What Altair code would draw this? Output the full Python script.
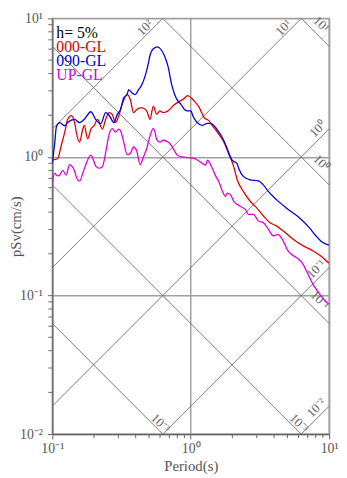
import math
import altair as alt
import pandas as pd

# ---------------- data ----------------
COMPONENTS = ["000-GL", "090-GL", "UP-GL"]
COLORS = ["#dd0000", "#0000dd", "#dd00dd"]

T_000 = [0.100, 0.109, 0.116, 0.123, 0.129, 0.137, 0.145, 0.149, 0.157, 0.166, 0.170, 0.180, 0.190, 0.201, 0.212,
         0.230, 0.243, 0.257, 0.271, 0.286, 0.302, 0.319, 0.347, 0.366, 0.386, 0.408, 0.443, 0.481, 0.508, 0.537,
         0.567, 0.598, 0.632, 0.686, 0.724, 0.765, 0.831, 0.877, 0.953, 1.005, 1.062, 1.153, 1.251, 1.357, 1.434,
         1.556, 1.737, 1.884, 2.046, 2.161, 2.411, 2.687, 2.998, 3.347, 3.731, 4.161, 4.641, 5.466, 6.443, 7.594,
         8.946, 9.71, 10.0]
SV_000 = [0.95, 0.97, 1.21, 1.51, 1.86, 1.99, 1.77, 1.51, 1.28, 1.59, 1.69, 1.35, 1.59, 1.69, 1.87,
          1.59, 1.87, 2.09, 2.03, 1.77, 1.98, 2.39, 2.82, 2.60, 2.09, 2.20, 2.27, 2.15, 1.87, 2.33,
          2.03, 2.15, 2.09, 2.15, 2.27, 2.39, 2.53, 2.60, 2.77, 2.67, 2.53, 2.27, 1.92, 1.82, 1.68,
          1.51, 1.28, 1.05, 0.849, 0.69, 0.56, 0.479, 0.429, 0.375, 0.336, 0.318, 0.293, 0.256, 0.229, 0.211,
          0.189, 0.175, 0.172]

T_090 = [0.100, 0.104, 0.107, 0.113, 0.123, 0.129, 0.145, 0.157, 0.170, 0.190, 0.206, 0.224, 0.243, 0.257, 0.279,
         0.294, 0.311, 0.328, 0.347, 0.356, 0.376, 0.397, 0.420, 0.443, 0.468, 0.494, 0.508, 0.537, 0.575, 0.615,
         0.650, 0.686, 0.724, 0.765, 0.808, 0.853, 0.902, 0.953, 1.005, 1.033, 1.086, 1.153, 1.217, 1.320, 1.394,
         1.474, 1.599, 1.737, 1.884, 1.990, 2.161, 2.222, 2.411, 2.687, 3.081, 3.347, 3.634, 4.161, 4.898, 6.095,
         7.183, 8.015, 8.946, 9.71, 10.0]
SV_090 = [0.90, 1.25, 1.65, 1.77, 1.68, 1.77, 1.87, 1.77, 1.87, 2.12, 1.86, 1.74, 2.09, 2.00, 1.77,
          2.02, 2.20, 2.67, 2.82, 3.06, 2.90, 2.82, 3.06, 3.32, 3.83, 4.73, 5.42, 6.05, 6.22, 5.89,
          5.28, 4.48, 3.41, 2.82, 2.53, 2.39, 2.20, 2.15, 2.15, 1.99, 1.83, 1.72, 1.69, 1.75, 1.75,
          1.68, 1.51, 1.31, 1.07, 0.947, 0.896, 0.826, 0.721, 0.683, 0.672, 0.629, 0.564, 0.492, 0.429, 0.364,
          0.309, 0.270, 0.242, 0.233, 0.232]

T_UP = [0.100, 0.104, 0.109, 0.113, 0.119, 0.126, 0.133, 0.141, 0.153, 0.157, 0.170, 0.190, 0.206, 0.218, 0.230,
        0.243, 0.257, 0.271, 0.286, 0.302, 0.311, 0.328, 0.347, 0.366, 0.386, 0.408, 0.431, 0.455, 0.481, 0.508,
        0.537, 0.552, 0.567, 0.598, 0.632, 0.686, 0.724, 0.765, 0.808, 0.877, 0.953, 1.062, 1.122, 1.217, 1.284,
        1.320, 1.357, 1.434, 1.513, 1.599, 1.689, 1.783, 1.833, 1.936, 2.046, 2.281, 2.477, 2.618, 2.840, 3.081,
        3.347, 3.634, 3.945, 4.276, 4.641, 5.036, 5.466, 5.935, 6.443, 6.995, 7.594, 8.459, 9.71, 10.0]
SV_UP = [0.65, 0.76, 0.73, 0.74, 0.80, 0.74, 0.88, 0.84, 0.68, 0.67, 0.82, 1.03, 0.86, 0.83, 0.85,
         1.08, 1.45, 1.60, 1.51, 1.59, 1.55, 1.28, 1.04, 1.06, 1.18, 1.10, 0.88, 1.00, 1.15, 1.42,
         1.61, 1.51, 1.34, 1.28, 1.32, 1.28, 1.21, 1.10, 1.02, 1.00, 0.99, 0.975, 0.947, 0.896, 0.873,
         0.95, 0.92, 0.826, 0.73, 0.66, 0.57, 0.52, 0.548, 0.534, 0.479, 0.441, 0.418, 0.385, 0.385, 0.345,
         0.336, 0.301, 0.270, 0.275, 0.249, 0.211, 0.195, 0.185, 0.170, 0.144, 0.122, 0.104, 0.0883, 0.087]

# tripartite guide lines: pseudo-acceleration (cm/s^2) and displacement (cm)
ACC_LEVELS = [100, 10, 1, 0.1, 0.01]
ACC_LABELS = ["10²", "10¹", "10⁰", "10⁻¹", "10⁻²"]
DISP_LEVELS = [10, 1, 0.1, 0.01, 0.001]
DISP_LABELS = ["10¹", "10⁰", "10⁻¹", "10⁻³", "10⁻³"]

X_MAJOR = [0.1, 1, 10]
X_MINOR = [0.2, 0.3, 0.4, 0.5, 0.6, 0.7, 0.8, 0.9, 2, 3, 4, 5, 6, 7, 8, 9]
Y_MAJOR = [0.01, 0.1, 1, 10]
Y_MINOR = [0.02, 0.03, 0.04, 0.05, 0.06, 0.07, 0.08, 0.09,
           0.2, 0.3, 0.4, 0.5, 0.6, 0.7, 0.8, 0.9,
           2, 3, 4, 5, 6, 7, 8, 9]

TITLE = "2022/03/17 00:52 at ORID2"
LEGEND_TEXT = ["h= 5%", "000-GL", "090-GL", "UP-GL"]
LEGEND_COLORS = ["#000000", "#dd0000", "#0000dd", "#dd00dd"]

# ---------------- build tables ----------------
rows = []
for comp, ts, vs in [("000-GL", T_000, SV_000), ("090-GL", T_090, SV_090), ("UP-GL", T_UP, SV_UP)]:
    for i, (t, v) in enumerate(zip(ts, vs)):
        rows.append({"comp": comp, "T": t, "Sv": v, "i": i})
curves_df = pd.DataFrame(rows)

TMIN, TMAX, VMIN, VMAX = 0.1, 10.0, 0.01, 10.0
TWO_PI = 2 * math.pi

diag_rows, acc_lab, disp_lab = [], [], []
for a, lab in zip(ACC_LEVELS, ACC_LABELS):
    for t in (TMIN, TMAX):
        diag_rows.append({"id": f"a{a}", "T": t, "Sv": a * t / TWO_PI})
    t_top = VMAX * TWO_PI / a
    if t_top <= TMAX:
        acc_lab.append({"T": t_top, "Sv": VMAX, "lab": lab, "edge": "top"})
    else:
        acc_lab.append({"T": TMAX, "Sv": a * TMAX / TWO_PI, "lab": lab, "edge": "right"})
for d, lab in zip(DISP_LEVELS, DISP_LABELS):
    for t in (TMIN, TMAX):
        diag_rows.append({"id": f"d{d}", "T": t, "Sv": TWO_PI * d / t})
    t_bot = TWO_PI * d / VMIN
    if t_bot <= TMAX:
        disp_lab.append({"T": t_bot, "Sv": VMIN, "lab": lab, "edge": "bottom"})
    else:
        disp_lab.append({"T": TMAX, "Sv": TWO_PI * d / TMAX, "lab": lab, "edge": "right"})
diag_df = pd.DataFrame(diag_rows)
acc_df = pd.DataFrame(acc_lab)
disp_df = pd.DataFrame(disp_lab)

W, H = 281, 422
FONT = "Liberation Serif"
AXIS_GRAY = "#666666"
GRID_GRAY = "#a0a0a0"
TEXT_GRAY = "#555555"

xs = alt.Scale(type="log", domain=[TMIN, TMAX], nice=False)
ys = alt.Scale(type="log", domain=[VMIN, VMAX], nice=False)

x_label_expr = "datum.value < 0.5 ? '10⁻¹' : (datum.value < 5 ? '10⁰' : '10¹')"
y_label_expr = ("datum.value < 0.05 ? '10⁻²' : (datum.value < 0.5 ? '10⁻¹' : "
                "(datum.value < 5 ? '10⁰' : '10¹'))")

XAXIS = alt.Axis(
    values=X_MAJOR, labelExpr=x_label_expr, title="Period(s)", grid=True,
    gridColor=GRID_GRAY, gridWidth=1.5, tickSize=5, tickColor=AXIS_GRAY,
    domainColor=AXIS_GRAY, domainWidth=1.2, labelFont=FONT, labelFontSize=14,
    labelColor=TEXT_GRAY, labelPadding=3, labelFlush=False, labelOverlap=False,
    titleFont=FONT, titleFontSize=15,
    titleFontWeight="normal", titleColor=TEXT_GRAY, titlePadding=3)
YAXIS = alt.Axis(
    values=Y_MAJOR, labelExpr=y_label_expr, title="pSv(cm/s)", grid=True,
    gridColor=GRID_GRAY, gridWidth=1.5, tickSize=5, tickColor=AXIS_GRAY,
    domainColor=AXIS_GRAY, domainWidth=1.2, labelFont=FONT, labelFontSize=14,
    labelColor=TEXT_GRAY, labelPadding=5, labelFlush=False, labelOverlap=False,
    titleFont=FONT, titleFontSize=15,
    titleFontWeight="normal", titleColor=TEXT_GRAY, titleX=-37, titleY=H / 2,
    titleAlign="center", titleBaseline="middle", titleAngle=270)

X = lambda f: alt.X(f, scale=xs, axis=XAXIS)
Y = lambda f: alt.Y(f, scale=ys, axis=YAXIS)

curves = alt.Chart(curves_df).mark_line(strokeWidth=1.3, interpolate="monotone", clip=True).encode(
    x=X("T:Q"), y=Y("Sv:Q"),
    color=alt.Color("comp:N", scale=alt.Scale(domain=COMPONENTS, range=COLORS), legend=None),
    detail="comp:N",
    order="i:Q",
)

diag = alt.Chart(diag_df).mark_line(color="#6a6a6a", strokeWidth=0.9, clip=True).encode(
    x=X("T:Q"), y=Y("Sv:Q"), detail="id:N",
)


def diag_labels(df, angle, dx, dy):
    return alt.Chart(df).mark_text(
        angle=angle, align="right", baseline="bottom", dx=dx, dy=dy,
        font=FONT, fontSize=13, color="#666666"
    ).encode(x=X("T:Q"), y=Y("Sv:Q"), text="lab:N")


acc_top = diag_labels(acc_df[acc_df.edge == "top"], 315, -11, 1)
acc_right = diag_labels(acc_df[acc_df.edge == "right"], 315, 0, -1)
disp_bottom = diag_labels(disp_df[disp_df.edge == "bottom"], 45, 1, 1)
disp_right = diag_labels(disp_df[disp_df.edge == "right"], 45, -13, -3)

xminor = alt.Chart(pd.DataFrame({"T": X_MINOR})).mark_rule(color=AXIS_GRAY, strokeWidth=1).encode(
    x=X("T:Q"), y=alt.value(H), y2=alt.value(H + 4),
)
yminor = alt.Chart(pd.DataFrame({"Sv": Y_MINOR})).mark_rule(color=AXIS_GRAY, strokeWidth=1).encode(
    y=Y("Sv:Q"), x=alt.value(-4), x2=alt.value(0),
)

legend_layers = []
for k, (txt, col) in enumerate(zip(LEGEND_TEXT, LEGEND_COLORS)):
    legend_layers.append(
        alt.Chart(pd.DataFrame({"txt": [txt]})).mark_text(
            align="left", baseline="alphabetic", font=FONT, fontSize=16, color=col
        ).encode(x=alt.value(4), y=alt.value(20 + 14.2 * k), text="txt:N")
    )

chart = alt.layer(diag, acc_top, acc_right, disp_bottom, disp_right, xminor, yminor, curves,
                  *legend_layers).properties(
    width=W, height=H,
    title=alt.TitleParams(TITLE, anchor="start", font=FONT, fontSize=16, fontWeight="normal",
                          color="#222222", offset=1),
    autosize=alt.AutoSizeParams(type="none"),
    padding={"left": 45, "top": 7, "right": 10, "bottom": 40},
).configure_view(stroke=GRID_GRAY, strokeWidth=1.5)

chart.save("out.html", embed_options={"renderer": "svg", "actions": False})
